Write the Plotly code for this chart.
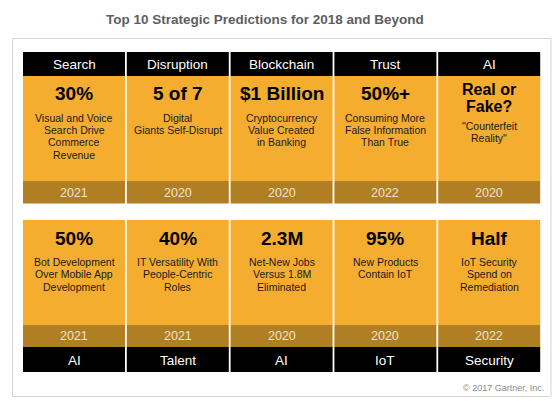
import plotly.graph_objects as go

# ---------------- data ----------------
top_categories = ["Search", "Disruption", "Blockchain", "Trust", "AI"]
top_headlines = ["30%", "5 of 7", "$1 Billion", "50%+", "Real or|Fake?"]
top_descriptions = [
    "Visual and Voice|Search Drive|Commerce|Revenue",
    "Digital|Giants Self-Disrupt",
    "Cryptocurrency|Value Created|in Banking",
    "Consuming More|False Information|Than True",
    "\"Counterfeit|Reality\"",
]
top_years = ["2021", "2020", "2020", "2022", "2020"]

bottom_categories = ["AI", "Talent", "AI", "IoT", "Security"]
bottom_headlines = ["50%", "40%", "2.3M", "95%", "Half"]
bottom_descriptions = [
    "Bot Development|Over Mobile App|Development",
    "IT Versatility With|People-Centric|Roles",
    "Net-New Jobs|Versus 1.8M|Eliminated",
    "New Products|Contain IoT",
    "IoT Security|Spend on|Remediation",
]
bottom_years = ["2021", "2021", "2020", "2020", "2022"]

title_text = "Top 10 Strategic Predictions for 2018 and Beyond"
credit_text = "© 2017 Gartner, Inc."

# ---------------- styling ----------------
W, H = 560, 401
FONT = "Arial, Liberation Sans, sans-serif"
ORANGE = "#F4AD2E"
DARK = "#B07F24"
BLACK = "#000000"
YEAR_COLOR = "#F1E4CB"

col_left = 23
col_width = 102
col_pitch = 103.8

fig = go.Figure()
# invisible trace to establish axes
fig.add_trace(go.Scatter(x=[0, W], y=[0, H], mode="markers",
                         marker=dict(opacity=0), hoverinfo="skip", showlegend=False))

shapes = []
annotations = []

# outer frame
shapes.append(dict(type="rect", xref="x", yref="y", x0=12.5, x1=551, y0=38.5, y1=396.5,
                   line=dict(color="#D4D4D4", width=1), fillcolor="rgba(0,0,0,0)"))

def text(x, y, s, size, color, bold=False, xanchor="center"):
    annotations.append(dict(x=x, y=y, xref="x", yref="y", text=("<b>%s</b>" % s) if bold else s,
                            showarrow=False, xanchor=xanchor, yanchor="middle",
                            font=dict(family=FONT, size=size, color=color)))

def rect(x0, x1, y0, y1, color):
    shapes.append(dict(type="rect", xref="x", yref="y", x0=x0, x1=x1, y0=y0, y1=y1,
                       line=dict(width=0), fillcolor=color, layer="below"))

# top row
for i in range(5):
    x0 = col_left + i * col_pitch
    x1 = x0 + col_width
    xc = (x0 + x1) / 2
    rect(x0, x1, 52, 76, BLACK)
    rect(x0, x1, 76, 181, ORANGE)
    rect(x0, x1, 181, 203.5, DARK)
    text(xc, 64.5, top_categories[i], 13.5, "#FFFFFF")
    heads = top_headlines[i].split("|")
    if len(heads) == 1:
        text(xc, 93.5, heads[0], 19, BLACK, bold=True)
        desc_y0 = 117.5
    else:
        for k, h in enumerate(heads):
            text(xc, 89.5 + k * 16.5, h, 16, BLACK, bold=True)
        desc_y0 = 125.5
    for k, line in enumerate(top_descriptions[i].split("|")):
        text(xc, desc_y0 + k * 12.4, line, 10.5, "#1A1A1A")
    text(xc, 193, top_years[i], 12.5, YEAR_COLOR)

# bottom row
for i in range(5):
    x0 = col_left + i * col_pitch
    x1 = x0 + col_width
    xc = (x0 + x1) / 2
    rect(x0, x1, 220, 325, ORANGE)
    rect(x0, x1, 325, 347, DARK)
    rect(x0, x1, 347, 372, BLACK)
    text(xc, 238.5, bottom_headlines[i], 19, BLACK, bold=True)
    for k, line in enumerate(bottom_descriptions[i].split("|")):
        text(xc, 262 + k * 12.4, line, 10.5, "#1A1A1A")
    text(xc, 336, bottom_years[i], 12.5, YEAR_COLOR)
    text(xc, 360, bottom_categories[i], 13.5, "#FFFFFF")

# title and credit
text(265, 19.5, title_text, 13.5, "#5E5E5E", bold=True)
text(546, 387.5, credit_text, 9, "#8C8C8C", xanchor="right")

fig.update_layout(
    width=W, height=H,
    margin=dict(l=0, r=0, t=0, b=0),
    paper_bgcolor="#FFFFFF", plot_bgcolor="#FFFFFF",
    xaxis=dict(range=[0, W], visible=False, fixedrange=True),
    yaxis=dict(range=[H, 0], visible=False, fixedrange=True),
    shapes=shapes, annotations=annotations,
    showlegend=False,
)

fig.write_html(
    "out.html",
    config=dict(displayModeBar=False),
    post_script="document.body.style.margin='0';document.body.style.overflow='hidden';",
)
